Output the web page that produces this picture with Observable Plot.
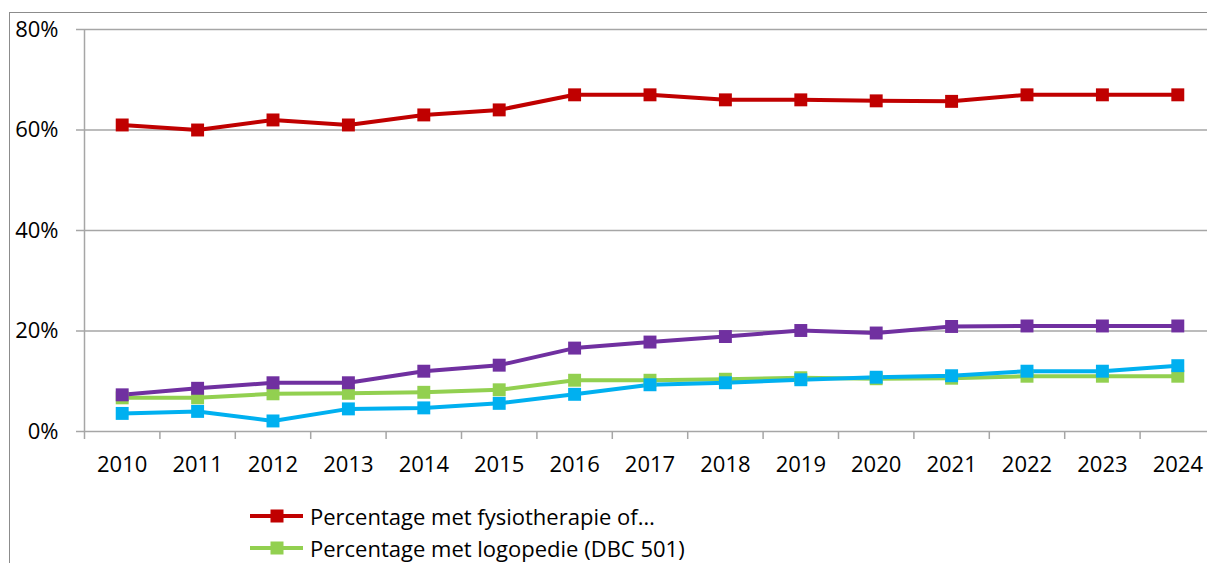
<!DOCTYPE html>
<html>
<head>
<meta charset="utf-8">
<script src="https://cdn.jsdelivr.net/npm/d3@7"></script>
<script src="https://cdn.jsdelivr.net/npm/@observablehq/plot@0.6"></script>
<style>
  html, body { margin: 0; padding: 0; background: #fff; overflow: hidden; }
  #wrap { position: relative; width: 1207px; height: 563px; overflow: hidden; font-family: "Open Sans", Lato, sans-serif; }
  #frame { position: absolute; left: 9px; top: 12px; right: -5px; bottom: -5px; border-left: 1.5px solid #8c8c8c; border-top: 1.5px solid #8c8c8c; }
  #chart { position: absolute; left: 0; top: 0; }
  #legend { position: absolute; left: 250px; top: 500px; }
  .item { display: flex; align-items: center; height: 32px; font-size: 22px; color: #000; white-space: nowrap; }
  .item svg { margin-right: 5px; }
</style>
</head>
<body>
<div id="wrap">
  <div id="frame"></div>
  <div id="chart"></div>
  <div id="legend"></div>
</div>
<script>
const years = [2010, 2011, 2012, 2013, 2014, 2015, 2016, 2017, 2018, 2019, 2020, 2021, 2022, 2023, 2024];
const fysio = [61, 60, 62, 61, 63, 64, 67, 67, 66, 66, 65.8, 65.7, 67, 67, 67];
const logopedie = [6.7, 6.7, 7.5, 7.6, 7.8, 8.3, 10.2, 10.2, 10.4, 10.7, 10.5, 10.6, 11, 11, 11];
const blueSeries = [3.6, 4.0, 2.1, 4.5, 4.7, 5.6, 7.4, 9.3, 9.7, 10.3, 10.8, 11.1, 12.0, 12.0, 13.1];
const purpleSeries = [7.3, 8.6, 9.7, 9.7, 12.0, 13.2, 16.6, 17.8, 18.9, 20.1, 19.6, 20.9, 21.0, 21.0, 21.0];
const yTicks = [0, 20, 40, 60, 80];
const seriesNames = ["Percentage met fysiotherapie of…", "Percentage met logopedie (DBC 501)", "blue", "purple"];
const seriesColors = ["#C00000", "#92D050", "#00B0F0", "#7030A0"];
const seriesValues = [fysio, logopedie, blueSeries, purpleSeries];

const data = [];
seriesValues.forEach((vals, si) => vals.forEach((v, i) => data.push({series: seriesNames[si], year: years[i], value: v, color: seriesColors[si]})));

const boundaries = years.map(y => y - 0.5).concat([years[years.length - 1] + 0.5]);
const gray = "#a6a6a6";
const font = "'Open Sans', Lato, sans-serif";

const chart = Plot.plot({
  width: 1207,
  height: 490,
  marginLeft: 84,
  marginRight: 0,
  marginTop: 29,
  marginBottom: 59,
  style: {fontFamily: font, fontSize: "22px", color: "#000", background: "transparent", overflow: "visible"},
  x: {type: "linear", domain: [boundaries[0], boundaries[boundaries.length - 1]], range: [84, 1215]},
  y: {domain: [0, 80], range: [431, 29]},
  marks: [
    Plot.ruleY(yTicks, {stroke: gray, strokeWidth: 1.5}),
    Plot.ruleX([boundaries[0]], {y1: 0, y2: 80, stroke: gray, strokeWidth: 1.5}),
    Plot.axisY({ticks: yTicks, tickSize: 8, tickPadding: 18, tickFormat: d => d + "%", stroke: gray, strokeWidth: 1.5, strokeOpacity: 1, label: null, fontSize: 22, fill: "#000"}),
    Plot.axisX({ticks: boundaries, tickSize: 8, tickFormat: () => "", stroke: gray, strokeWidth: 1.5, strokeOpacity: 1, label: null}),
    Plot.axisX({ticks: years, tickSize: 0, tickPadding: 25, tickFormat: d => String(d), label: null, fontSize: 22, fill: "#000"}),
    Plot.line(data, {x: "year", y: "value", z: "series", stroke: "color", strokeWidth: 4, strokeLinejoin: "round"}),
    Plot.dot(data, {x: "year", y: "value", fill: "color", symbol: "square", r: 7.3, stroke: "none"})
  ]
});
document.getElementById("chart").appendChild(chart);

// Legend (visible entries only; the original is cut off at the bottom)
const legend = d3.select("#legend");
[0, 1].forEach(i => {
  const item = legend.append("div").attr("class", "item");
  const s = item.append("svg").attr("width", 55).attr("height", 20);
  s.append("line").attr("x1", 0).attr("x2", 53).attr("y1", 10).attr("y2", 10).attr("stroke", seriesColors[i]).attr("stroke-width", 4);
  s.append("rect").attr("x", 20.5).attr("y", 3.5).attr("width", 13).attr("height", 13).attr("fill", seriesColors[i]);
  item.append("span").text(seriesNames[i]);
});
</script>
</body>
</html>
